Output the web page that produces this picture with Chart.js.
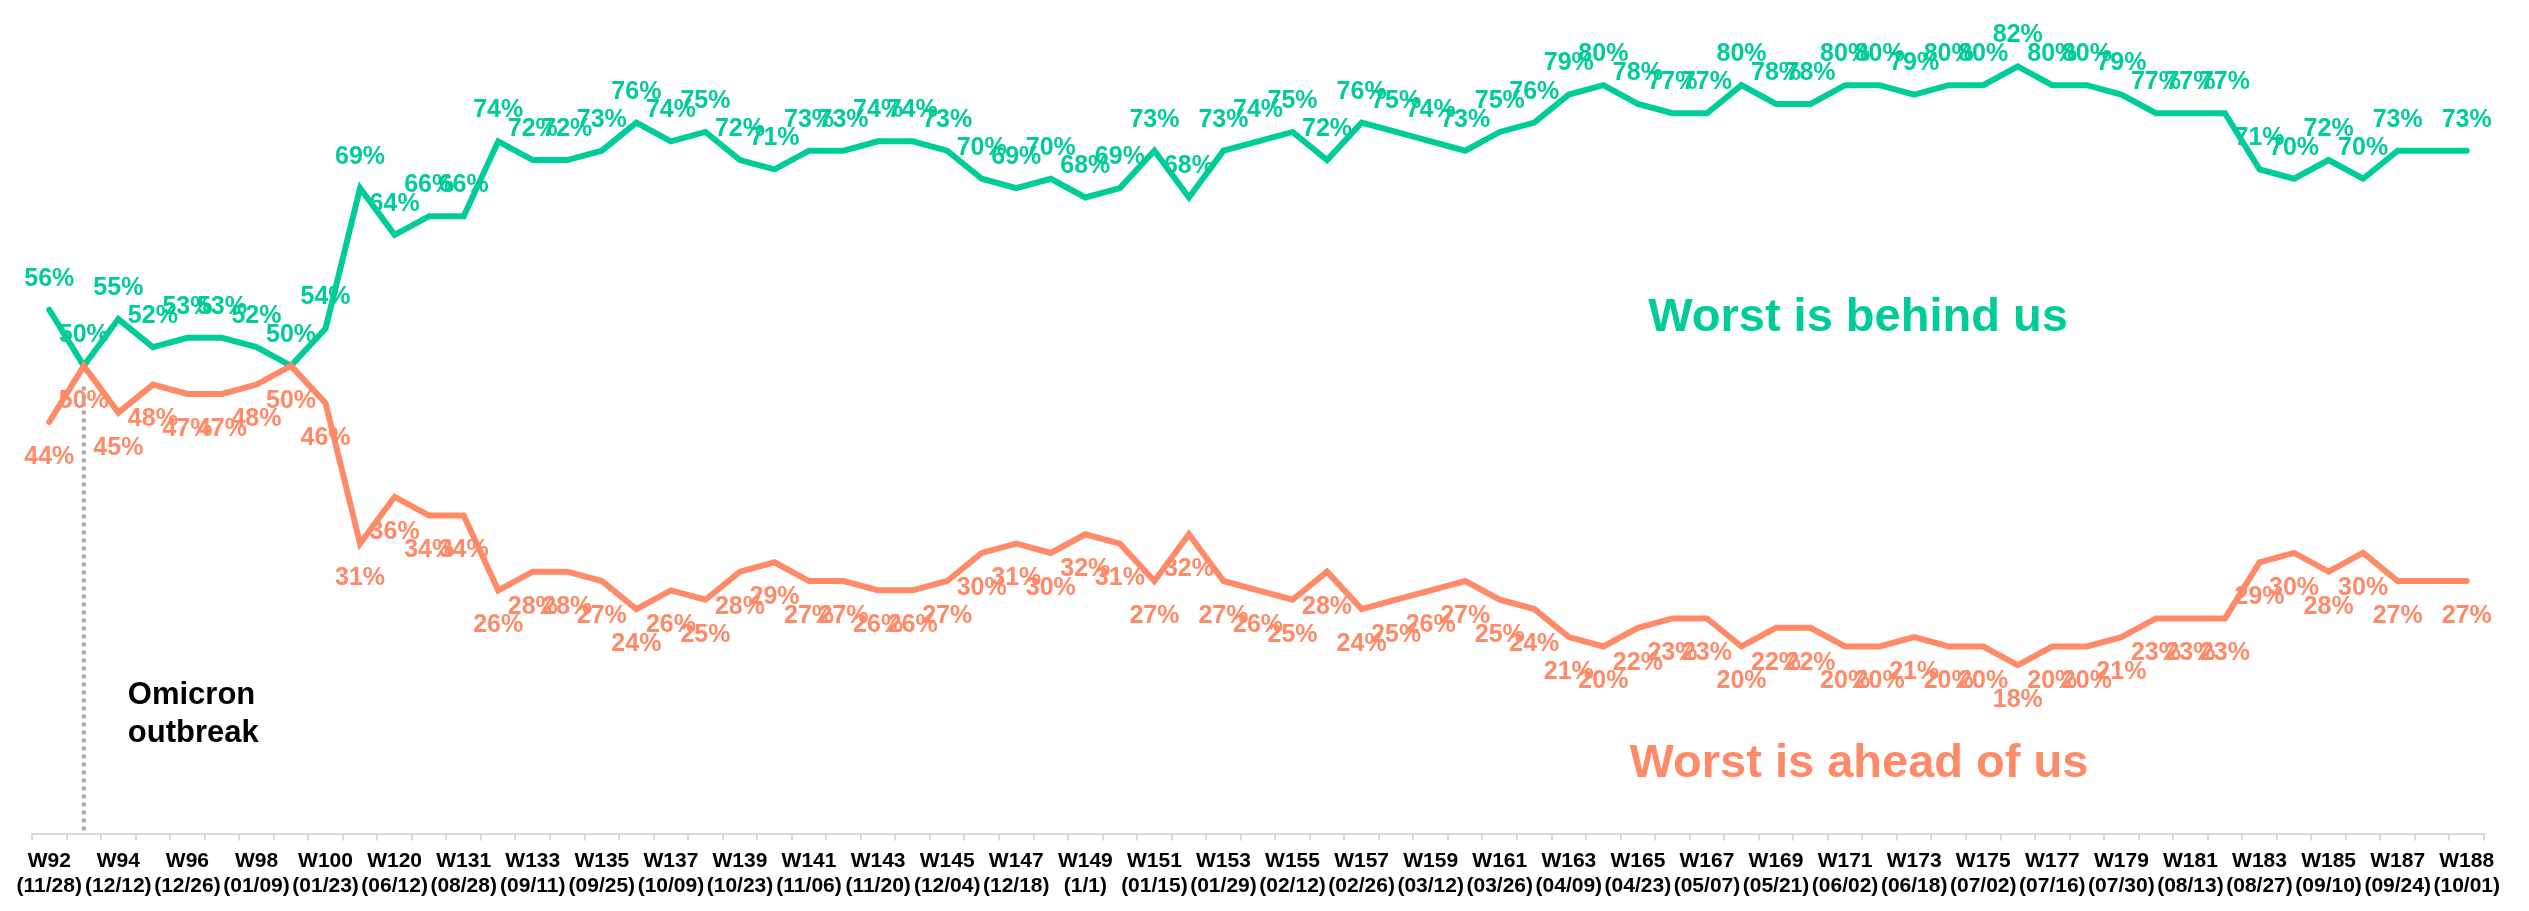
<!DOCTYPE html>
<html>
<head>
<meta charset="utf-8">
<script src="https://cdn.jsdelivr.net/npm/chart.js@4.4.1/dist/chart.umd.min.js"></script>
<style>
  html, body { margin: 0; padding: 0; background: #fff; }
  #wrap { width: 2529px; height: 911px; }
</style>
</head>
<body>
<div id="wrap"><canvas id="trendChart"></canvas></div>
<script>
// Axis labels - only every other point carries one
const weekLabels = ['W92', 'W94', 'W96', 'W98', 'W100', 'W120', 'W131', 'W133', 'W135', 'W137',
  'W139', 'W141', 'W143', 'W145', 'W147', 'W149', 'W151', 'W153', 'W155', 'W157',
  'W159', 'W161', 'W163', 'W165', 'W167', 'W169', 'W171', 'W173', 'W175', 'W177',
  'W179', 'W181', 'W183', 'W185', 'W187', 'W188'];
const dateLabels = ['(11/28)', '(12/12)', '(12/26)', '(01/09)', '(01/23)', '(06/12)', '(08/28)', '(09/11)', '(09/25)', '(10/09)',
  '(10/23)', '(11/06)', '(11/20)', '(12/04)', '(12/18)', '(1/1)', '(01/15)', '(01/29)', '(02/12)', '(02/26)',
  '(03/12)', '(03/26)', '(04/09)', '(04/23)', '(05/07)', '(05/21)', '(06/02)', '(06/18)', '(07/02)', '(07/16)',
  '(07/30)', '(08/13)', '(08/27)', '(09/10)', '(09/24)', '(10/01)'];

// "Worst is behind us" (%)
const behindUs = [56, 50, 55, 52, 53, 53, 52, 50, 54, 69,
  64, 66, 66, 74, 72, 72, 73, 76, 74, 75,
  72, 71, 73, 73, 74, 74, 73, 70, 69, 70,
  68, 69, 73, 68, 73, 74, 75, 72, 76, 75,
  74, 73, 75, 76, 79, 80, 78, 77, 77, 80,
  78, 78, 80, 80, 79, 80, 80, 82, 80, 80,
  79, 77, 77, 77, 71, 70, 72, 70, 73, 73, 73];

// "Worst is ahead of us" (%)
const aheadOfUs = [44, 50, 45, 48, 47, 47, 48, 50, 46, 31,
  36, 34, 34, 26, 28, 28, 27, 24, 26, 25,
  28, 29, 27, 27, 26, 26, 27, 30, 31, 30,
  32, 31, 27, 32, 27, 26, 25, 28, 24, 25,
  26, 27, 25, 24, 21, 20, 22, 23, 23, 20,
  22, 22, 20, 20, 21, 20, 20, 18, 20, 20,
  21, 23, 23, 23, 29, 30, 28, 30, 27, 27, 27];

// points left without a value label in the original
const unlabeled = [69];

const categories = behindUs.map((v, i) => i % 2 === 0 ? [weekLabels[i / 2], dateLabels[i / 2]] : '');

const FONT = '"Liberation Sans", Arial, sans-serif';
const GREEN = '#00cc99';
const ORANGE = '#ff8a68';

// value labels, green above the line, orange below
const valueLabels = {
  id: 'valueLabels',
  afterDatasetsDraw(chart) {
    const ctx = chart.ctx;
    ctx.save();
    ctx.font = 'bold 25px ' + FONT;
    ctx.textAlign = 'center';
    ctx.textBaseline = 'middle';
    chart.data.datasets.forEach((ds, di) => {
      const meta = chart.getDatasetMeta(di);
      ctx.fillStyle = ds.borderColor;
      meta.data.forEach((pt, i) => {
        if (unlabeled.includes(i)) return;
        const dy = ds.labelSide === 'above' ? -31 : 35;
        ctx.fillText(ds.data[i] + '%', pt.x, pt.y + dy);
      });
    });
    ctx.restore();
  }
};

// Omicron marker and the two series captions
const notes = {
  id: 'notes',
  beforeDatasetsDraw(chart) {
    const { ctx, chartArea, scales: { x, y } } = chart;
    const mx = x.getPixelForValue(1);
    ctx.save();
    ctx.strokeStyle = '#a6a6a6';
    ctx.lineWidth = 4;
    ctx.setLineDash([4, 4]);
    ctx.beginPath();
    ctx.moveTo(mx, y.getPixelForValue(47.8));
    ctx.lineTo(mx, chartArea.bottom - 3);
    ctx.stroke();
    ctx.restore();
  },
  afterDraw(chart) {
    const { ctx, scales: { x, y } } = chart;
    ctx.save();
    ctx.textAlign = 'left';
    ctx.textBaseline = 'alphabetic';

    ctx.fillStyle = '#000';
    ctx.font = 'bold 31px ' + FONT;
    const ox = x.getPixelForValue(1) + 44;
    ctx.fillText('Omicron', ox, y.getPixelForValue(13.9));
    ctx.fillText('outbreak', ox, y.getPixelForValue(9.8));

    ctx.font = 'bold 47px ' + FONT;
    ctx.fillStyle = GREEN;
    ctx.fillText('Worst is behind us', x.getPixelForValue(46.3), y.getPixelForValue(53.7));
    ctx.fillStyle = ORANGE;
    ctx.fillText('Worst is ahead of us', x.getPixelForValue(45.76), y.getPixelForValue(6.0));
    ctx.restore();
  }
};

new Chart(document.getElementById('trendChart'), {
  type: 'line',
  data: {
    labels: categories,
    datasets: [
      {
        label: 'Worst is behind us',
        data: behindUs,
        borderColor: GREEN,
        borderWidth: 6,
        pointRadius: 0,
        tension: 0,
        borderCapStyle: 'round',
        labelSide: 'above',
        order: 1
      },
      {
        label: 'Worst is ahead of us',
        data: aheadOfUs,
        borderColor: ORANGE,
        borderWidth: 6,
        pointRadius: 0,
        tension: 0,
        borderCapStyle: 'round',
        labelSide: 'below',
        order: 0
      }
    ]
  },
  options: {
    responsive: true,
    maintainAspectRatio: false,
    animation: false,
    layout: { padding: { top: 1, left: 32, right: 45, bottom: 4 } },
    plugins: {
      legend: { display: false },
      tooltip: { enabled: false }
    },
    scales: {
      x: {
        offset: true,
        grid: {
          offset: true,
          drawOnChartArea: false,
          tickLength: 7,
          color: '#d9d9d9',
          lineWidth: 2
        },
        border: { color: '#d9d9d9', width: 2 },
        ticks: {
          autoSkip: false,
          maxRotation: 0,
          padding: 8,
          color: '#000',
          font: { family: FONT, size: 21, weight: 'bold' }
        }
      },
      y: {
        display: false,
        min: 0,
        max: 89
      }
    }
  },
  plugins: [notes, valueLabels]
});
</script>
</body>
</html>
